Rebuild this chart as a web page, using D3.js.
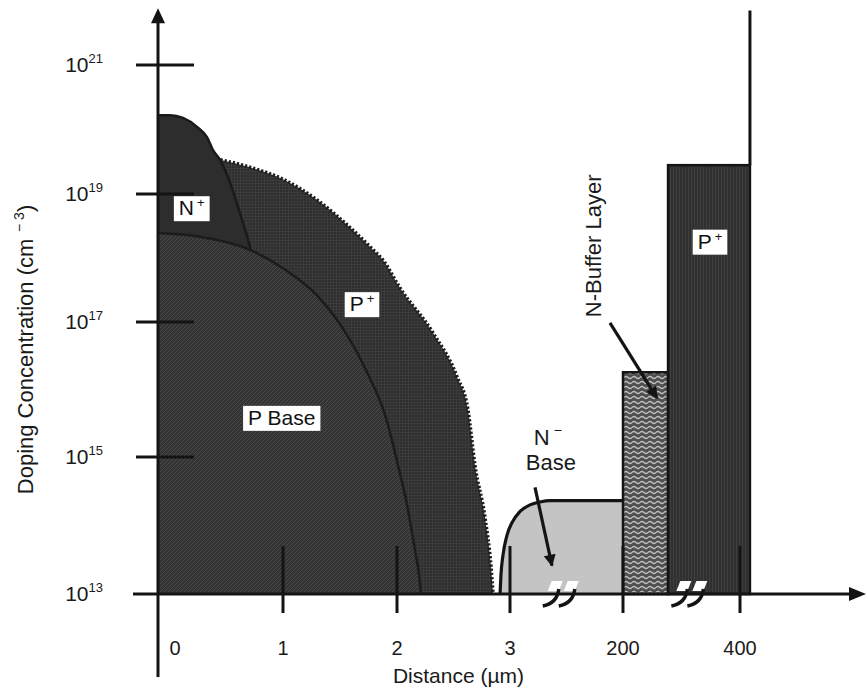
<!DOCTYPE html>
<html>
<head>
<meta charset="utf-8">
<script src="https://cdn.jsdelivr.net/npm/d3@7"></script>
<style>
  body { margin: 0; background: #fff; }
  svg { display: block; font-family: "Liberation Sans", Arial, sans-serif; }
</style>
</head>
<body>
<svg id="chart" width="868" height="691"></svg>
<script>
// depth axis is broken: 0..3 um, then 200 and 400 um
var xTicks = [0, 1, 2, 3, 200, 400];
var yTicks = [1e13, 1e15, 1e17, 1e19, 1e21];
var breaks = [88, 310];

// N+ emitter diffusion (depth um, doping cm^-3)
var nPlusDepth = [0, 0.096, 0.2, 0.312, 0.392, 0.44, 0.496, 0.576, 0.656, 0.736, 0.816, 0.88, 0.936, 0.976];
var nPlusConc  = [1.66e20, 1.66e20, 1.51e20, 1.1e20, 7.6e19, 4.8e19, 3.4e19, 1.5e19, 5.0e18, 1.5e18, 3.2e17, 4e16, 1.3e15, 1e13];

// P+ diffusion
var pPlusDepth = [0, 0.256, 0.496, 0.736, 1.0, 1.298, 1.588, 1.789, 1.877, 2.027, 2.319, 2.531, 2.628, 2.69, 2.779, 2.832, 2.85];
var pPlusConc  = [4.5e19, 4.0e19, 3.4e19, 2.6e19, 1.7e19, 8.1e18, 3.0e18, 1.35e18, 9.3e17, 3.4e17, 6.9e16, 1.55e16, 5.0e15, 7.6e14, 1.3e14, 2.5e13, 1e13];

// P base diffusion
var pBaseDepth = [0, 0.336, 0.736, 1.0, 1.298, 1.5, 1.737, 1.895, 2.009, 2.097, 2.159, 2.195, 2.212];
var pBaseConc  = [2.45e18, 2.15e18, 1.34e18, 6.9e17, 2.6e17, 9.3e16, 1.8e16, 4.2e15, 7.6e14, 1.7e14, 4.4e13, 1.9e13, 1e13];

// N- base (drift region)
var nBaseDepth = [2.912, 2.92, 2.938, 2.973, 6.5, 20.4, 37.9, 55.3, 72.7, 200];
var nBaseConc  = [1e13, 1.9e13, 3.7e13, 7.2e13, 1.1e14, 1.6e14, 2.0e14, 2.2e14, 2.3e14, 2.3e14];

// uniform layers: [from, to] um and doping
var bufferSpan = [200, 277], bufferConc = 1.8e16;
var collSpan = [277, 417], collConc = 2.8e19;
var yMax = 7.6e21, collLineTop = 7e21;

// labels, anchored in data units
var boxLabels = [
  { name: "N", sup: "+", depth: 0.27, conc: 6e18 },
  { name: "P", sup: "+", depth: 1.693, conc: 1.9e17 },
  { name: "P Base", sup: "", depth: 0.99, conc: 3.8e15 },
  { name: "P", sup: "+", depth: 348.7, conc: 1.8e18 }
];
var nBaseLabel = { depth: 69, conc: 1.5e15 };
var bufferLabel = { depth: 161.6, conc: 1.55e18 };
var arrows = [
  { from: [46.6, 3.6e14], to: [76.2, 2.6e13] },
  { from: [177.3, 9.7e16], to: [258, 7.5e15] }
];

var svg = d3.select("#chart");

var x = d3.scaleLinear().domain(xTicks).range([158, 283, 397, 510, 623, 740]);
var y = d3.scaleLog().domain(yTicks).range([594, 457, 322, 194, 65]);

var base = y(1e13);
var x0 = x(0);
var ink = "#141414";

var zip = function (xs, vs) { return xs.map(function (v, i) { return [v, vs[i]]; }); };

// textures
var defs = svg.append("defs");
function pattern(id, w, h, bg) {
  var p = defs.append("pattern").attr("id", id)
    .attr("patternUnits", "userSpaceOnUse")
    .attr("width", w).attr("height", h);
  p.append("rect").attr("width", w).attr("height", h).attr("fill", bg);
  return p;
}
pattern("pBaseFill", 4, 4, "#333333")
  .append("path").attr("d", "M-1,1 L1,-1 M0,4 L4,0 M3,5 L5,3")
  .attr("stroke", "#4a4a4a").attr("stroke-width", 1);
pattern("pPlusFill", 3, 3, "#2e2e2e")
  .append("path").attr("d", "M0,0.5 H3 M0.5,0 V3")
  .attr("stroke", "#3d3d3d").attr("stroke-width", 0.8);
pattern("nPlusFill", 4, 4, "#2d2d2d");
pattern("bufferFill", 8, 5, "#505050")
  .append("path").attr("d", "M0,2.5 Q2,0.5 4,2.5 T8,2.5")
  .attr("fill", "none").attr("stroke", "#bdbdbd").attr("stroke-width", 1.3);
pattern("collFill", 3, 4, "#303030")
  .append("path").attr("d", "M1.5,0 V4")
  .attr("stroke", "#3e3e3e").attr("stroke-width", 1);

defs.append("marker").attr("id", "head")
  .attr("viewBox", "0 0 10 10").attr("refX", 9).attr("refY", 5)
  .attr("markerUnits", "userSpaceOnUse")
  .attr("markerWidth", 15).attr("markerHeight", 12)
  .attr("orient", "auto")
  .append("path").attr("d", "M0,0 L10,5 L0,10 z").attr("fill", ink);

var area = d3.area()
  .x(function (d) { return x(d[0]); })
  .y0(base)
  .y1(function (d) { return y(d[1]); })
  .curve(d3.curveMonotoneX);
var line = d3.line()
  .x(function (d) { return x(d[0]); })
  .y(function (d) { return y(d[1]); })
  .curve(d3.curveMonotoneX);

// P+ diffusion with beaded edge
var pPlus = zip(pPlusDepth, pPlusConc);
svg.append("path").attr("d", area(pPlus)).attr("fill", "url(#pPlusFill)");
svg.append("path").attr("d", line(pPlus))
  .attr("fill", "none").attr("stroke", "#1e1e1e")
  .attr("stroke-width", 3.5).attr("stroke-dasharray", "2.2,2");

// N+ emitter
var nPlus = zip(nPlusDepth, nPlusConc);
svg.append("path").attr("d", area(nPlus)).attr("fill", "url(#nPlusFill)");
svg.append("path").attr("d", line(nPlus))
  .attr("fill", "none").attr("stroke", "#1a1a1a").attr("stroke-width", 2.5);

// P base
var pBase = zip(pBaseDepth, pBaseConc);
svg.append("path").attr("d", area(pBase)).attr("fill", "url(#pBaseFill)");
svg.append("path").attr("d", line(pBase))
  .attr("fill", "none").attr("stroke", "#1c1c1c").attr("stroke-width", 2.5);

// N- base
var nBase = zip(nBaseDepth, nBaseConc);
svg.append("path").attr("d", area(nBase)).attr("fill", "#c4c4c4");
svg.append("path").attr("d", line(nBase))
  .attr("fill", "none").attr("stroke", ink).attr("stroke-width", 3.2);

// N buffer and P+ collector
svg.append("rect")
  .attr("x", x(bufferSpan[0])).attr("y", y(bufferConc))
  .attr("width", x(bufferSpan[1]) - x(bufferSpan[0]))
  .attr("height", base - y(bufferConc))
  .attr("fill", "url(#bufferFill)").attr("stroke", ink).attr("stroke-width", 2.5);
svg.append("rect")
  .attr("x", x(collSpan[0])).attr("y", y(collConc))
  .attr("width", x(collSpan[1]) - x(collSpan[0]))
  .attr("height", base - y(collConc))
  .attr("fill", "url(#collFill)").attr("stroke", ink).attr("stroke-width", 2.5);
svg.append("line")
  .attr("x1", x(collSpan[1])).attr("x2", x(collSpan[1]))
  .attr("y1", y(collLineTop)).attr("y2", y(collConc))
  .attr("stroke", ink).attr("stroke-width", 3);

// ticks
svg.selectAll("line.y-tick")
  .data(yTicks.slice(1))
  .enter().append("line")
  .attr("class", "y-tick")
  .attr("x1", x0 - 22).attr("x2", x0 + 36)
  .attr("y1", y).attr("y2", y)
  .attr("stroke", ink).attr("stroke-width", 3);

svg.selectAll("line.x-tick")
  .data(xTicks.slice(1))
  .enter().append("line")
  .attr("class", "x-tick")
  .attr("x1", x).attr("x2", x)
  .attr("y1", base - 48).attr("y2", base + 19)
  .attr("stroke", ink).attr("stroke-width", 3);

// axes with arrow heads
svg.append("line")
  .attr("x1", x0).attr("x2", x0)
  .attr("y1", y(yMax) + 10).attr("y2", base + 83)
  .attr("stroke", ink).attr("stroke-width", 3);
svg.append("path")
  .attr("d", "M" + x0 + "," + y(yMax) + " l7,15 l-14,0 z")
  .attr("fill", ink);
var xEnd = x(400) + 126;
svg.append("line")
  .attr("x1", x0 - 25).attr("x2", xEnd - 10)
  .attr("y1", base).attr("y2", base)
  .attr("stroke", ink).attr("stroke-width", 3);
svg.append("path")
  .attr("d", "M" + xEnd + "," + base + " l-17,-7 l0,14 z")
  .attr("fill", ink);

// axis break marks
breaks.forEach(function (b) {
  var cx = x(b);
  [-8, 8].forEach(function (o) {
    var c = cx + o;
    svg.append("path")
      .attr("d", "M" + (c + 1) + "," + (base - 13) + " L" + (c + 12) + "," + (base - 13) +
        " L" + (c + 8) + "," + (base - 3) + " L" + (c - 3) + "," + (base - 3) + " z")
      .attr("fill", "#fff");
    svg.append("path")
      .attr("d", "M" + (c + 8) + "," + (base - 5) + " C" + (c + 7) + "," + (base + 5) + " " +
        (c + 2) + "," + (base + 10) + " " + (c - 8) + "," + (base + 12))
      .attr("fill", "none").attr("stroke", ink).attr("stroke-width", 3.4);
  });
});

// tick labels
svg.selectAll("text.y-label")
  .data(yTicks)
  .enter().append("text")
  .attr("class", "y-label")
  .attr("x", x0 - 55)
  .attr("y", function (d) { return y(d) + 7; })
  .attr("text-anchor", "end")
  .attr("font-size", 21)
  .attr("fill", "#1a1a1a")
  .each(function (d) {
    var t = d3.select(this);
    t.append("tspan").text("10");
    t.append("tspan").attr("dy", -9).attr("font-size", 13).text(Math.round(Math.log10(d)));
  });

svg.selectAll("text.x-label")
  .data(xTicks)
  .enter().append("text")
  .attr("class", "x-label")
  .attr("x", function (d) { return x(d) + (d === 0 ? 17 : 0); })
  .attr("y", base + 61)
  .attr("text-anchor", "middle")
  .attr("font-size", 20)
  .attr("fill", "#1a1a1a")
  .text(function (d) { return d; });

// axis titles
svg.append("text")
  .attr("x", (x(2) + x(3)) / 2 + 5)
  .attr("y", base + 89)
  .attr("text-anchor", "middle")
  .attr("font-size", 21)
  .attr("fill", "#1a1a1a")
  .text("Distance (\u00b5m)");

var yt = svg.append("text")
  .attr("transform", "translate(" + (x0 - 125) + "," + ((y(1e13) + y(1e21)) / 2 + 20) + ") rotate(-90)")
  .attr("text-anchor", "middle")
  .attr("font-size", 22)
  .attr("fill", "#1a1a1a");
yt.append("tspan").text("Doping Concentration (cm");
yt.append("tspan").attr("dy", -9).attr("font-size", 14).text("\u2009 \u2212 3");
yt.append("tspan").attr("dy", 9).text(")");

// boxed region labels
boxLabels.forEach(function (l) {
  var g = svg.append("g");
  var t = g.append("text")
    .attr("x", x(l.depth)).attr("y", y(l.conc) + 7)
    .attr("text-anchor", "middle")
    .attr("font-size", 21)
    .attr("fill", "#111");
  t.append("tspan").text(l.name);
  if (l.sup) t.append("tspan").attr("dx", 3).attr("dy", -8).attr("font-size", 13).text(l.sup);
  var b = t.node().getBBox();
  g.insert("rect", "text")
    .attr("x", b.x - 5).attr("y", y(l.conc) - 12)
    .attr("width", b.width + 10).attr("height", 25)
    .attr("fill", "#fff");
});

// N- base label
var nl = svg.append("text")
  .attr("x", x(nBaseLabel.depth)).attr("y", y(nBaseLabel.conc))
  .attr("text-anchor", "middle")
  .attr("font-size", 22)
  .attr("fill", "#1a1a1a");
nl.append("tspan").text("N");
nl.append("tspan").attr("dx", 4).attr("dy", -10).attr("font-size", 14).text("\u2212");
svg.append("text")
  .attr("x", x(nBaseLabel.depth) + 3).attr("y", y(nBaseLabel.conc) + 25)
  .attr("text-anchor", "middle")
  .attr("font-size", 22)
  .attr("fill", "#1a1a1a")
  .text("Base");

// N-buffer label
svg.append("text")
  .attr("transform", "translate(" + x(bufferLabel.depth) + "," + y(bufferLabel.conc) + ") rotate(-90)")
  .attr("text-anchor", "middle")
  .attr("font-size", 22)
  .attr("fill", "#1a1a1a")
  .text("N-Buffer Layer");

// pointer arrows
svg.selectAll("line.pointer")
  .data(arrows)
  .enter().append("line")
  .attr("class", "pointer")
  .attr("x1", function (d) { return x(d.from[0]); })
  .attr("y1", function (d) { return y(d.from[1]); })
  .attr("x2", function (d) { return x(d.to[0]); })
  .attr("y2", function (d) { return y(d.to[1]); })
  .attr("stroke", ink).attr("stroke-width", 3.2)
  .attr("marker-end", "url(#head)");
</script>
</body>
</html>
